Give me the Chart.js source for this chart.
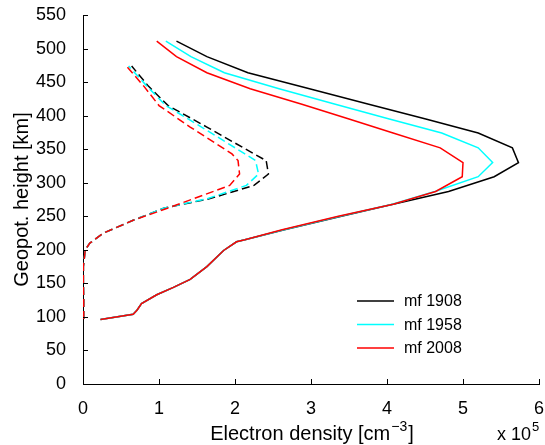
<!DOCTYPE html>
<html>
<head>
<meta charset="utf-8">
<script src="https://cdn.jsdelivr.net/npm/chart.js@4.4.1/dist/chart.umd.min.js"></script>
<style>
  body { margin: 0; background: #fff; }
  canvas { display: block; }
</style>
</head>
<body>
<canvas id="myChart" width="545" height="445"></canvas>
<script>
// heights in km, densities in units of 1e5 cm^-3
const solidHeights = [96, 104, 110, 120, 133, 144, 156, 175, 199, 212, 215, 230, 250, 268, 287, 309, 330, 352, 374, 395, 417, 440, 464, 488, 511];
const mf1908 = [0.23, 0.66, 0.71, 0.77, 0.97, 1.19, 1.41, 1.63, 1.85, 2.02, 2.13, 2.65, 3.40, 4.08, 4.81, 5.41, 5.73, 5.65, 5.20, 4.51, 3.76, 2.98, 2.17, 1.63, 1.23];
const mf1958 = [0.23, 0.66, 0.71, 0.77, 0.97, 1.19, 1.41, 1.63, 1.85, 2.02, 2.13, 2.64, 3.38, 4.07, 4.63, 5.20, 5.39, 5.20, 4.72, 4.03, 3.32, 2.58, 1.86, 1.42, 1.09];
const mf2008 = [0.23, 0.66, 0.71, 0.77, 0.97, 1.19, 1.41, 1.63, 1.85, 2.02, 2.13, 2.62, 3.36, 4.08, 4.64, 4.99, 5.00, 4.70, 4.08, 3.50, 2.88, 2.20, 1.63, 1.23, 0.97];

const dashHeights = [97, 125, 150, 175, 200, 210, 225, 244, 262, 276, 296, 313, 333, 343, 383, 415, 444, 474];
const mf1908night = [0.01, 0.01, 0.005, 0.005, 0.03, 0.09, 0.27, 0.66, 1.06, 1.66, 2.25, 2.44, 2.41, 2.25, 1.63, 1.12, 0.86, 0.64];
const mf1958night = [0.01, 0.01, 0.005, 0.005, 0.03, 0.09, 0.27, 0.66, 1.06, 1.63, 2.15, 2.31, 2.27, 2.13, 1.56, 1.09, 0.84, 0.60];
const mf2008night = [0.01, 0.01, 0.005, 0.005, 0.03, 0.09, 0.27, 0.66, 1.11, 1.45, 1.93, 2.06, 2.04, 1.96, 1.41, 1.00, 0.80, 0.57];

const xTicks = [0, 1, 2, 3, 4, 5, 6];
const yTicks = [0, 50, 100, 150, 200, 250, 300, 350, 400, 450, 500, 550];

const FONT = "'Liberation Sans', Arial, Helvetica, sans-serif";

function pts(xs, ys) {
  return xs.map((x, i) => ({ x: x, y: ys[i] }));
}

function line(label, xs, ys, color, dashed, order) {
  return {
    label: label,
    data: pts(xs, ys),
    showLine: true,
    borderColor: color,
    backgroundColor: color,
    borderWidth: 1.5,
    borderDash: dashed ? [8, 4] : [],
    pointRadius: 0,
    fill: false,
    tension: 0,
    order: order,
    inLegend: !dashed
  };
}

// ticks pointing into the plot, like the original
const inwardTicks = {
  id: "inwardTicks",
  afterDraw(chart) {
    const ctx = chart.ctx;
    const xs = chart.scales.x, ys = chart.scales.y;
    ctx.save();
    ctx.strokeStyle = "#000";
    ctx.lineWidth = 1;
    ctx.beginPath();
    xTicks.forEach(v => {
      const px = Math.round(xs.getPixelForValue(v)) + 0.5;
      ctx.moveTo(px, ys.bottom);
      ctx.lineTo(px, ys.bottom - 5);
    });
    yTicks.forEach(v => {
      const py = Math.round(ys.getPixelForValue(v)) + 0.5;
      ctx.moveTo(xs.left, py);
      ctx.lineTo(xs.left + 5, py);
    });
    ctx.stroke();
    ctx.restore();
  }
};

// x title with superscript and the x 10^5 multiplier
const xLabels = {
  id: "xLabels",
  afterDraw(chart) {
    const ctx = chart.ctx;
    const area = chart.chartArea;
    const base = 440;
    ctx.save();
    ctx.fillStyle = "#000";
    ctx.textBaseline = "alphabetic";
    const big = "20px " + FONT, small = "14px " + FONT;
    ctx.font = big;
    const a = "Electron density [cm", c = "]";
    const wa = ctx.measureText(a).width, wc = ctx.measureText(c).width;
    ctx.font = small;
    const b = "\u22123";
    const wb = ctx.measureText(b).width;
    let x = (area.left + area.right) / 2 - (wa + wb + wc) / 2;
    ctx.font = big;
    ctx.fillText(a, x, base);
    x += wa;
    ctx.font = small;
    ctx.fillText(b, x + 1, base - 9);
    x += wb + 2;
    ctx.font = big;
    ctx.fillText(c, x, base);

    ctx.font = "18px " + FONT;
    ctx.textAlign = "right";
    ctx.fillText("x 10", area.right - 8, base);
    ctx.font = "13px " + FONT;
    ctx.textAlign = "left";
    ctx.fillText("5", area.right - 7, base - 9);
    ctx.restore();
  }
};

// legend inside the plot, only for the solid lines
const innerLegend = {
  id: "innerLegend",
  afterDraw(chart) {
    const ctx = chart.ctx;
    const items = chart.data.datasets.filter(d => d.inLegend);
    ctx.save();
    ctx.font = "16px " + FONT;
    ctx.textBaseline = "middle";
    ctx.fillStyle = "#000";
    items.forEach((d, i) => {
      const y = 301 + i * 23.5;
      ctx.strokeStyle = d.borderColor;
      ctx.lineWidth = 1.5;
      ctx.beginPath();
      ctx.moveTo(357, y);
      ctx.lineTo(394, y);
      ctx.stroke();
      ctx.fillText(d.label, 404, y + 1);
    });
    ctx.restore();
  }
};

const ctx = document.getElementById("myChart");
const myChart = new Chart(ctx, {
  type: "scatter",
  data: {
    datasets: [
      line("mf 1908", mf1908, solidHeights, "#000000", false, 2),
      line("mf 1958", mf1958, solidHeights, "#00ffff", false, 1),
      line("mf 2008", mf2008, solidHeights, "#ff0000", false, 0),
      line("mf 1908 night", mf1908night, dashHeights, "#000000", true, 5),
      line("mf 1958 night", mf1958night, dashHeights, "#00ffff", true, 4),
      line("mf 2008 night", mf2008night, dashHeights, "#ff0000", true, 3)
    ]
  },
  options: {
    responsive: false,
    animation: false,
    layout: { padding: { left: 0, top: 15, right: 6, bottom: 0 } },
    plugins: {
      legend: { display: false },
      tooltip: { enabled: false }
    },
    scales: {
      x: {
        type: "linear",
        min: 0,
        max: 6,
        afterBuildTicks: s => { s.ticks = xTicks.map(v => ({ value: v })); },
        ticks: { color: "#000", font: { family: FONT, size: 18 }, padding: 6, maxRotation: 0 },
        grid: { display: false },
        border: { display: true, color: "#000", width: 1 },
        afterFit: s => { s.height = 61; s.paddingLeft = 0; s.paddingRight = 0; }
      },
      y: {
        type: "linear",
        min: 0,
        max: 550,
        afterBuildTicks: s => { s.ticks = yTicks.map(v => ({ value: v })); },
        ticks: { color: "#000", font: { family: FONT, size: 18 }, padding: 9 },
        grid: { display: false },
        border: { display: true, color: "#000", width: 1 },
        title: {
          display: true,
          text: "Geopot. height [km]",
          color: "#000",
          font: { family: FONT, size: 20 },
          padding: { top: 10, bottom: 0 }
        },
        afterFit: s => { s.width = 83; s.paddingTop = 0; s.paddingBottom = 0; }
      }
    }
  },
  plugins: [inwardTicks, xLabels, innerLegend]
});
</script>
</body>
</html>
